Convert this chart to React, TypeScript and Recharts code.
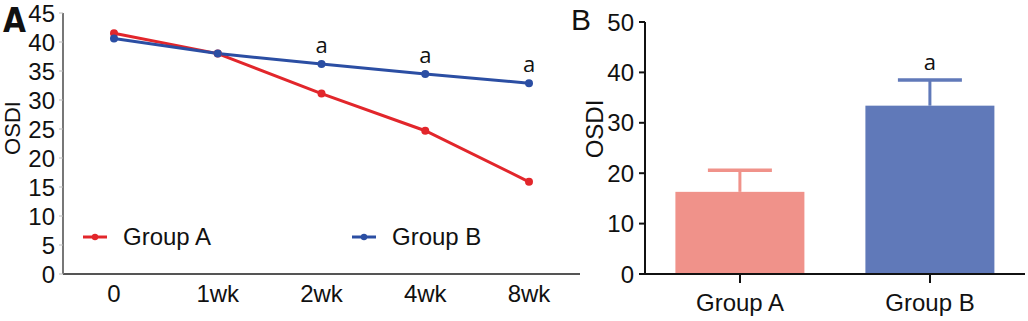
import { LineChart, Line, XAxis, YAxis, Legend, LabelList, BarChart, Bar, Cell } from "recharts"

// Panel A - OSDI over time
const weeks = ["0", "1wk", "2wk", "4wk", "8wk"]
const groupA = [41.5, 38.0, 31.1, 24.7, 15.9]
const groupB = [40.6, 38.0, 36.2, 34.5, 32.9]
const sigB = ["", "", "a", "a", "a"]
const yTicksA = [0, 5, 10, 15, 20, 25, 30, 35, 40, 45]

// Panel B - OSDI at 8wk
const groups = ["Group A", "Group B"]
const osdiMean = [16.3, 33.4]
const osdiErr = [4.3, 5.1]
const sigBar = ["", "a"]
const barColors = ["#f0928a", "#6079b9"]
const yTicksB = [0, 10, 20, 30, 40, 50]

const FONT = "'Liberation Sans', Arial, sans-serif"
const SIG_FONT = "'Open Sans', sans-serif"
const RED = "#e2262b"
const BLUE = "#2b4ea3"

const lineData = weeks.map((w, i) => ({ week: w, a: groupA[i], b: groupB[i], sig: sigB[i] }))
const barData = groups.map((g, i) => ({ group: g, mean: osdiMean[i], err: osdiErr[i], sig: sigBar[i] }))

const LineLegend = ({ payload }: any) => (
    <div style={{ display: "flex", fontFamily: FONT, fontSize: 24, color: "#111" }}>
        {(payload || []).map((p: any, i: number) => (
            <div key={p.value} style={{ display: "flex", alignItems: "center", width: i === 0 ? 269 : "auto" }}>
                <svg width={24} height={10}>
                    <line x1={0} y1={5} x2={24} y2={5} stroke={p.color} strokeWidth={3} />
                    <circle cx={12} cy={5} r={3.2} fill={p.color} />
                </svg>
                <span style={{ marginLeft: 16 }}>{p.value}</span>
            </div>
        ))}
    </div>
)

const ErrBarShape = (props: any) => {
    const { x, y, width, height, fill, payload } = props
    const pxPerUnit = height / payload.mean
    const top = y - payload.err * pxPerUnit
    const cx = x + width / 2
    return (
        <g>
            <rect x={x} y={y} width={width} height={height} fill={fill} />
            <line x1={cx} x2={cx} y1={y} y2={top} stroke={fill} strokeWidth={3} />
            <line x1={cx - 32} x2={cx + 32} y1={top} y2={top} stroke={fill} strokeWidth={3.5} />
            {payload.sig && (
                <text x={cx} y={top - 10} textAnchor="middle" fontFamily={SIG_FONT} fontSize={22} fill="#111">
                    {payload.sig}
                </text>
            )}
        </g>
    )
}

export default function App() {
    return (
        <div style={{ position: "absolute", left: 0, top: 0, width: 1028, height: 321, background: "#fff" }}>
            <div style={{ position: "absolute", left: 0, top: 0 }}>
                <LineChart width={580} height={321} data={lineData} margin={{ top: 13, right: 0, left: 0, bottom: 0 }}>
                    <XAxis
                        dataKey="week"
                        height={47}
                        padding={{ left: 51, right: 51 }}
                        stroke="#555"
                        strokeWidth={2}
                        tickLine={false}
                        tickSize={0}
                        tickMargin={11}
                        tick={{ fill: "#111", fontSize: 24, fontFamily: FONT }}
                    />
                    <YAxis
                        width={63}
                        domain={[0, 45]}
                        ticks={yTicksA}
                        interval={0}
                        stroke="#777"
                        strokeWidth={2}
                        tickLine={{ stroke: "#bbb", strokeWidth: 1 }}
                        tickSize={4}
                        tickMargin={4}
                        tick={{ fill: "#111", fontSize: 24, fontFamily: FONT }}
                    />
                    <Legend
                        layout="horizontal"
                        align="center"
                        verticalAlign="middle"
                        content={<LineLegend />}
                        wrapperStyle={{ left: 83, top: 223, width: 450 }}
                    />
                    <Line dataKey="a" name="Group A" stroke={RED} strokeWidth={3} dot={{ r: 4, fill: RED, stroke: RED, strokeWidth: 0 }} isAnimationActive={false} />
                    <Line dataKey="b" name="Group B" stroke={BLUE} strokeWidth={3} dot={{ r: 4, fill: BLUE, stroke: BLUE, strokeWidth: 0 }} isAnimationActive={false}>
                        <LabelList dataKey="sig" position="top" offset={11} fill="#111" fontSize={22} fontFamily={SIG_FONT} />
                    </Line>
                </LineChart>
            </div>
            <div style={{ position: "absolute", left: 560, top: 0 }}>
                <BarChart width={468} height={321} data={barData} margin={{ top: 22, right: 3, left: 0, bottom: 0 }} barCategoryGap="16%">
                    <XAxis
                        dataKey="group"
                        height={47}
                        stroke="#111"
                        strokeWidth={2}
                        tickSize={9}
                        tickMargin={11}
                        tick={{ fill: "#111", fontSize: 24, fontFamily: FONT }}
                    />
                    <YAxis
                        width={85}
                        domain={[0, 50]}
                        ticks={yTicksB}
                        interval={0}
                        stroke="#111"
                        strokeWidth={2}
                        tickSize={6}
                        tickMargin={5}
                        tick={{ fill: "#111", fontSize: 24, fontFamily: FONT }}
                    />
                    <Bar dataKey="mean" shape={<ErrBarShape />} isAnimationActive={false}>
                        {barData.map((d, i) => (
                            <Cell key={d.group} fill={barColors[i]} />
                        ))}
                    </Bar>
                </BarChart>
            </div>
            <svg width={1028} height={321} style={{ position: "absolute", left: 0, top: 0, pointerEvents: "none" }}>
                <text x={3} y={32} fontFamily="'Liberation Sans Narrow', 'DejaVu Sans Condensed', sans-serif" fontWeight="bold" fontSize={33} fill="#111">A</text>
                <text x={571} y={30} fontFamily={FONT} fontSize={30} fill="#111">B</text>
                <text x={20} y={128} transform="rotate(-90, 20, 128)" textAnchor="middle" fontFamily={FONT} fontSize={22} fill="#111">OSDI</text>
                <text x={603} y={129} transform="rotate(-90, 603, 129)" textAnchor="middle" fontFamily={FONT} fontSize={24} fill="#111">OSDI</text>
            </svg>
        </div>
    )
}
